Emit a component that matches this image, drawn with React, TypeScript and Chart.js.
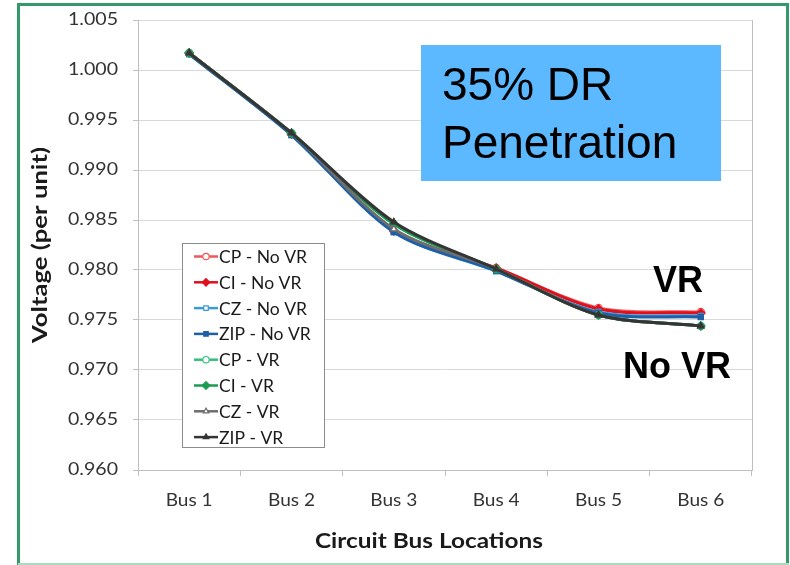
import React, { useEffect, useRef } from 'react';
import { Chart, registerables } from 'chart.js';
import { drawPoint } from 'chart.js/helpers';

Chart.register(...registerables);

const W = 790;
const H = 565;

// ---- data ----
const busLabels = ['Bus 1', 'Bus 2', 'Bus 3', 'Bus 4', 'Bus 5', 'Bus 6'];
const cpNoVR = [1.0017, 0.9936, 0.9839, 0.9802, 0.9762, 0.9758];
const ciNoVR = [1.0017, 0.9936, 0.9839, 0.9802, 0.9761, 0.9757];
const czNoVR = [1.0016, 0.9935, 0.9838, 0.9799, 0.9758, 0.9754];
const zipNoVR = [1.0016, 0.9935, 0.9838, 0.9799, 0.9757, 0.9753];
const cpVR = [1.0017, 0.9937, 0.9846, 0.9801, 0.9755, 0.9744];
const ciVR = [1.0017, 0.9937, 0.9846, 0.9801, 0.9755, 0.9744];
const czVR = [1.0017, 0.9937, 0.9841, 0.9801, 0.9755, 0.9744];
const zipVR = [1.0017, 0.9937, 0.9848, 0.9801, 0.9755, 0.9744];
const seriesNames = ['CP - No VR', 'CI - No VR', 'CZ - No VR', 'ZIP - No VR', 'CP - VR', 'CI - VR', 'CZ - VR', 'ZIP - VR'];
const yMin = 0.96;
const yMax = 1.005;
const yStep = 0.005;
const boxLines = ['35% DR', 'Penetration'];
const labelVR = 'VR';
const labelNoVR = 'No VR';
const xTitle = 'Circuit Bus Locations';
const yTitle = 'Voltage (per unit)';

const seriesValues = [cpNoVR, ciNoVR, czNoVR, zipNoVR, cpVR, ciVR, czVR, zipVR];
const seriesColors = ['#f0575a', '#e0101c', '#3d9ad6', '#1f5fa8', '#33c07a', '#1a9b50', '#6e6e6e', '#353535'];
const seriesStyles = ['circle', 'rectRot', 'rect', 'rect', 'circle', 'rectRot', 'triangle', 'triangle'];
const seriesOpen = [true, false, true, false, true, false, true, false];

const TXT = '#333333';
const GRID = '#d9d9d9';
const AXIS = '#bfbfbf';

function drawText(ctx: CanvasRenderingContext2D, text: string, x: number, y: number, font: string, align: CanvasTextAlign, sx: number, color: string, baseline: CanvasTextBaseline = 'middle') {
  ctx.save();
  ctx.font = font;
  ctx.fillStyle = color;
  ctx.textAlign = align;
  ctx.textBaseline = baseline;
  ctx.translate(x, y);
  ctx.scale(sx, 1);
  ctx.fillText(text, 0, 0);
  ctx.restore();
}

function fitScale(ctx: CanvasRenderingContext2D, font: string, ref: string, target: number) {
  ctx.save();
  ctx.font = font;
  const w = ctx.measureText(ref).width;
  ctx.restore();
  return w > 0 ? target / w : 1;
}

const decorPlugin = {
  id: 'decor',
  afterDraw(chart: any) {
    const ctx: CanvasRenderingContext2D = chart.ctx;
    const area = chart.chartArea;
    const xs = chart.scales.x;
    const ys = chart.scales.y;

    // right plot border
    ctx.save();
    ctx.strokeStyle = AXIS;
    ctx.lineWidth = 1;
    ctx.beginPath();
    ctx.moveTo(Math.round(area.right) + 0.5, area.top);
    ctx.lineTo(Math.round(area.right) + 0.5, area.bottom);
    ctx.stroke();
    ctx.restore();

    // y tick labels
    const tickFont = '17px Lato';
    const sxY = fitScale(ctx, tickFont, '0.990', 50);
    ys.ticks.forEach((t: any) => {
      const py = ys.getPixelForValue(t.value);
      drawText(ctx, Number(t.value).toFixed(3), 118, py, tickFont, 'right', sxY, TXT);
    });
    // x tick labels
    const sxX = fitScale(ctx, tickFont, 'Bus 1', 47);
    busLabels.forEach((lab, i) => {
      const px = xs.getPixelForValue(i);
      drawText(ctx, lab, px, 501, tickFont, 'center', sxX, TXT);
    });

    // axis titles
    const titleFont = 'bold 20px Lato';
    const sxT = fitScale(ctx, titleFont, xTitle, 228);
    drawText(ctx, xTitle, 429, 542, titleFont, 'center', sxT, '#1a1a1a');
    ctx.save();
    ctx.translate(41, (area.top + area.bottom) / 2);
    ctx.rotate(-Math.PI / 2);
    const syT = fitScale(ctx, titleFont, yTitle, 196);
    drawText(ctx, yTitle, 0, 0, titleFont, 'center', syT, '#1a1a1a');
    ctx.restore();

    // legend
    const lx0 = 182, ly0 = 243, lx1 = 324, ly1 = 447;
    ctx.save();
    ctx.fillStyle = '#ffffff';
    ctx.fillRect(lx0, ly0, lx1 - lx0, ly1 - ly0);
    ctx.strokeStyle = '#8c8c8c';
    ctx.lineWidth = 1;
    ctx.strokeRect(lx0 + 0.5, ly0 + 0.5, lx1 - lx0, ly1 - ly0);
    ctx.restore();
    const legFont = '17px Lato';
    const sxL = fitScale(ctx, legFont, 'CP - No VR', 88);
    chart.data.datasets.forEach((ds: any, i: number) => {
      const cy = 256.5 + i * 25.8;
      ctx.save();
      ctx.strokeStyle = ds.borderColor;
      ctx.lineWidth = 2.5;
      ctx.beginPath();
      ctx.moveTo(194, cy);
      ctx.lineTo(218, cy);
      ctx.stroke();
      ctx.fillStyle = ds.pointBackgroundColor;
      ctx.strokeStyle = ds.pointBorderColor;
      ctx.lineWidth = 1.2;
      drawPoint(ctx, { pointStyle: ds.pointStyle, radius: ds.pointStyle === 'rectRot' ? 3.8 : 3.2, borderWidth: 1.2, rotation: 0 } as any, 206, cy);
      ctx.restore();
      drawText(ctx, ds.label, 219, cy + 1, legFont, 'left', sxL, '#1a1a1a');
    });

    // blue annotation box
    ctx.save();
    ctx.fillStyle = '#5cb8ff';
    ctx.fillRect(421, 45, 300, 136);
    ctx.restore();
    const boxFont = '46px "Liberation Sans", Arial, sans-serif';
    drawText(ctx, boxLines[0], 442, 100, boxFont, 'left', 1, '#000000', 'alphabetic');
    drawText(ctx, boxLines[1], 442, 158, boxFont, 'left', 1, '#000000', 'alphabetic');

    // VR / No VR labels
    const lblFont = 'bold 36px "Liberation Sans", Arial, sans-serif';
    drawText(ctx, labelVR, 653, 292, lblFont, 'left', 1, '#000000', 'alphabetic');
    drawText(ctx, labelNoVR, 623, 378, lblFont, 'left', 1, '#000000', 'alphabetic');

    // green frame
    ctx.save();
    ctx.strokeStyle = '#34996a';
    ctx.lineWidth = 3;
    ctx.beginPath();
    ctx.moveTo(18.5, H);
    ctx.lineTo(18.5, 4.5);
    ctx.lineTo(787.5, 4.5);
    ctx.lineTo(787.5, H);
    ctx.stroke();
    ctx.strokeStyle = '#a8dcbf';
    ctx.lineWidth = 2;
    ctx.beginPath();
    ctx.moveTo(18, 564);
    ctx.lineTo(789, 564);
    ctx.stroke();
    ctx.restore();
  },
};

export default function App() {
  const ref = useRef<HTMLCanvasElement>(null);
  useEffect(() => {
    if (!ref.current) return;
    const n = seriesValues.length;
    const datasets = seriesValues.map((vals, i) => ({
      label: seriesNames[i],
      data: vals,
      order: n - 1 - i,
      borderColor: seriesColors[i],
      backgroundColor: seriesColors[i],
      pointBackgroundColor: seriesOpen[i] ? '#ffffff' : seriesColors[i],
      pointBorderColor: seriesColors[i],
      pointStyle: seriesStyles[i],
      pointRadius: seriesStyles[i] === 'rectRot' ? 4.2 : 3.6,
      pointBorderWidth: 1.3,
      borderWidth: 3,
      tension: 0.3,
      fill: false,
    }));
    const chart = new Chart(ref.current, {
      type: 'line',
      data: { labels: busLabels, datasets },
      options: {
        animation: false,
        responsive: false,
        devicePixelRatio: 1,
        layout: { padding: { left: 0, right: 38, top: 20, bottom: 0 } },
        plugins: { legend: { display: false }, tooltip: { enabled: false }, title: { display: false } },
        scales: {
          x: {
            type: 'category',
            offset: true,
            grid: { offset: true, drawOnChartArea: false, drawTicks: true, tickLength: 6, tickColor: AXIS },
            border: { color: AXIS, width: 1 },
            ticks: { color: 'rgba(0,0,0,0)', font: { size: 17, family: 'Lato' } },
            afterFit: (s: any) => { s.height = 95; },
          },
          y: {
            min: yMin,
            max: yMax,
            grid: { color: GRID, drawTicks: true, tickLength: 5, tickColor: AXIS },
            border: { color: AXIS, width: 1 },
            ticks: { stepSize: yStep, color: 'rgba(0,0,0,0)', font: { size: 17, family: 'Lato' }, callback: (v: any) => Number(v).toFixed(3) },
            afterFit: (s: any) => { s.width = 138; },
          },
        },
      },
      plugins: [decorPlugin],
    } as any);
    return () => chart.destroy();
  }, []);
  return (
    <div style={{ position: 'absolute', left: 0, top: 0, width: W, height: H, background: '#ffffff' }}>
      <canvas ref={ref} width={W} height={H} style={{ display: 'block', width: W, height: H }} />
    </div>
  );
}
